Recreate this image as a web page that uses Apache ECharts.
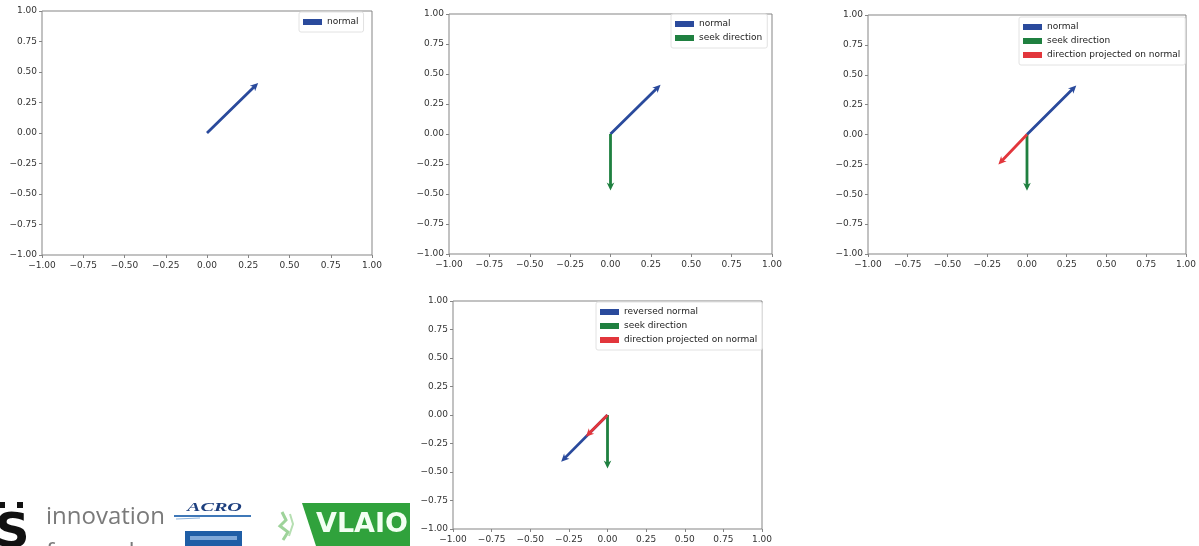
<!DOCTYPE html>
<html>
<head>
<meta charset="utf-8">
<title>Normal and seek direction vectors</title>
<script src="https://cdn.jsdelivr.net/npm/echarts@6/dist/echarts.min.js"></script>
<style>
  html, body { margin: 0; padding: 0; background: #fff; }
  #chart { width: 1199px; height: 546px; }
</style>
</head>
<body>
<div id="chart"></div>
<script>
// Axis ticks shared by all four panels
const axisTicks = [-1, -0.75, -0.5, -0.25, 0, 0.25, 0.5, 0.75, 1];

// Vectors, each drawn from the origin: [x, y]
const origin = [0, 0];
const normal = [0.31, 0.41];
const seekDirection = [0, -0.47];
const projectedOnNormal = [-0.18, -0.25];
const reversedNormal = [-0.30, -0.41];
const projectedOnReversed = [-0.14, -0.19];

// Series names (legend entries)
const names = {
  normal: 'normal',
  seek: 'seek direction',
  projected: 'direction projected on normal',
  reversed: 'reversed normal'
};

const colors = { blue: '#2a4a9c', green: '#1f8040', red: '#e2363c' };

const font = 'DejaVu Sans';
const frameColor = '#858585';

// Panels laid out as a 3 + 1 figure
const panels = [
  { grid: { left: 42, top: 11, width: 330, height: 244 }, legendPos: { left: 299, top: 12 } },
  { grid: { left: 449, top: 14, width: 323, height: 240 }, legendPos: { left: 671, top: 14 } },
  { grid: { left: 868, top: 15, width: 322, height: 239 }, legendPos: { left: 1019, top: 17 } },
  { grid: { left: 453, top: 301, width: 309, height: 228 }, legendPos: { left: 596, top: 302 } }
];

// Which arrows each panel shows, in drawing order
const panelArrows = [
  [[names.normal, normal, colors.blue]],
  [[names.normal, normal, colors.blue], [names.seek, seekDirection, colors.green]],
  [[names.normal, normal, colors.blue], [names.seek, seekDirection, colors.green], [names.projected, projectedOnNormal, colors.red]],
  [[names.reversed, reversedNormal, colors.blue], [names.seek, seekDirection, colors.green], [names.projected, projectedOnReversed, colors.red]]
];

function tickFormat(v) {
  return (v < 0 ? '\u2212' : '') + Math.abs(v).toFixed(2);
}

// Quiver-style arrow: thin shaft with a swept-back head
function renderArrow(params, api) {
  const p0 = api.coord([api.value(0), api.value(1)]);
  const p1 = api.coord([api.value(2), api.value(3)]);
  const dx = p1[0] - p0[0], dy = p1[1] - p0[1];
  const len = Math.hypot(dx, dy) || 1;
  const ux = dx / len, uy = dy / len;
  const nx = -uy, ny = ux;
  const sw = 1.4, hw = 3.8, hl = 8, ha = 6.5;
  const back = [p1[0] - ux * ha, p1[1] - uy * ha];
  const neck = [p1[0] - ux * hl, p1[1] - uy * hl];
  const pts = [
    [p0[0] + nx * sw, p0[1] + ny * sw],
    [back[0] + nx * sw, back[1] + ny * sw],
    [neck[0] + nx * hw, neck[1] + ny * hw],
    [p1[0], p1[1]],
    [neck[0] - nx * hw, neck[1] - ny * hw],
    [back[0] - nx * sw, back[1] - ny * sw],
    [p0[0] - nx * sw, p0[1] - ny * sw]
  ];
  return {
    type: 'polygon',
    shape: { points: pts },
    style: { fill: api.visual('color'), stroke: null }
  };
}

const grids = [], xAxes = [], yAxes = [], legends = [], series = [];

panels.forEach((panel, i) => {
  grids.push(Object.assign({
    show: true, borderColor: frameColor, borderWidth: 1, backgroundColor: '#fff'
  }, panel.grid));

  const axisBase = {
    type: 'value',
    gridIndex: i,
    min: axisTicks[0],
    max: axisTicks[axisTicks.length - 1],
    interval: axisTicks[1] - axisTicks[0],
    axisLine: { show: false, onZero: false },
    axisTick: { show: true, length: 3, lineStyle: { color: frameColor, width: 1 } },
    splitLine: { show: false },
    axisLabel: { fontFamily: font, fontSize: 9, color: '#333', formatter: tickFormat, showMinLabel: true, showMaxLabel: true }
  };
  xAxes.push(Object.assign({}, axisBase, { position: 'bottom', axisLabel: Object.assign({}, axisBase.axisLabel, { margin: 6 }) }));
  yAxes.push(Object.assign({}, axisBase, { position: 'left', axisLabel: Object.assign({}, axisBase.axisLabel, { margin: 5 }) }));

  legends.push(Object.assign({
    orient: 'vertical',
    icon: 'rect',
    itemWidth: 19,
    itemHeight: 6,
    itemGap: 2,
    padding: [4, 5, 4, 4],
    borderColor: '#e2e2e2',
    borderWidth: 1,
    borderRadius: 2,
    backgroundColor: 'rgba(255,255,255,0.8)',
    selectedMode: false,
    textStyle: { fontFamily: font, fontSize: 9, color: '#222', lineHeight: 12 },
    data: panelArrows[i].map(a => a[0])
  }, panel.legendPos));

  panelArrows[i].forEach(([name, vec, color]) => {
    series.push({
      type: 'custom',
      name: name,
      xAxisIndex: i,
      yAxisIndex: i,
      renderItem: renderArrow,
      itemStyle: { color: color },
      dimensions: ['x0', 'y0', 'x1', 'y1'],
      encode: { x: [0, 2], y: [1, 3] },
      data: [[origin[0], origin[1], vec[0], vec[1]]],
      silent: true
    });
  });
});

// Sponsor logos along the bottom-left edge
const logos = [
  // dotted S mark
  { type: 'rect', shape: { x: 0, y: 502, width: 5, height: 6 }, style: { fill: '#111' } },
  { type: 'rect', shape: { x: 17, y: 502, width: 6, height: 6 }, style: { fill: '#111' } },
  { type: 'text', left: -5, top: 511, style: { text: 'S', font: '900 48px "DejaVu Sans"', fill: '#111' } },
  // innovation forward
  { type: 'text', left: 46, top: 505, style: { text: 'innovation', font: '24px "Open Sans"', fill: '#7a7a7a' } },
  { type: 'text', left: 46, top: 541, style: { text: 'forward', font: '24px "Open Sans"', fill: '#7a7a7a' } },
  // ACRO
  { type: 'text', x: 187, y: 501, scaleX: 1.55, style: { text: 'ACRO', font: 'italic bold 13px "Liberation Serif"', fill: '#1d3f7e' } },
  { type: 'line', shape: { x1: 174, y1: 516, x2: 251, y2: 516 }, style: { stroke: '#3f78b8', lineWidth: 2 } },
  { type: 'line', shape: { x1: 176, y1: 519, x2: 200, y2: 518 }, style: { stroke: '#8fb4dc', lineWidth: 1 } },
  { type: 'rect', shape: { x: 185, y: 531, width: 57, height: 16 }, style: { fill: '#1f5ea6' } },
  { type: 'rect', shape: { x: 190, y: 536, width: 47, height: 4 }, style: { fill: '#7fa8d8' } },
  // VLAIO
  { type: 'polyline', shape: { points: [[282, 512], [286, 520], [280, 526], [288, 532], [283, 540]] }, style: { stroke: '#9ed39a', lineWidth: 3, fill: null } },
  { type: 'polyline', shape: { points: [[290, 514], [293, 524], [289, 536]] }, style: { stroke: '#b6dfb2', lineWidth: 2, fill: null } },
  { type: 'polygon', shape: { points: [[302, 503], [410, 503], [410, 546], [316, 546]] }, style: { fill: '#30a23c' } },
  { type: 'text', left: 316, top: 511, style: { text: 'VLAIO', font: 'bold 27px "DejaVu Sans"', fill: '#f2fff2' } }
];

const chart = echarts.init(document.getElementById('chart'), null, { renderer: 'canvas' });
chart.setOption({
  animation: false,
  backgroundColor: '#fff',
  grid: grids,
  xAxis: xAxes,
  yAxis: yAxes,
  legend: legends,
  series: series,
  graphic: logos
});
</script>
</body>
</html>
